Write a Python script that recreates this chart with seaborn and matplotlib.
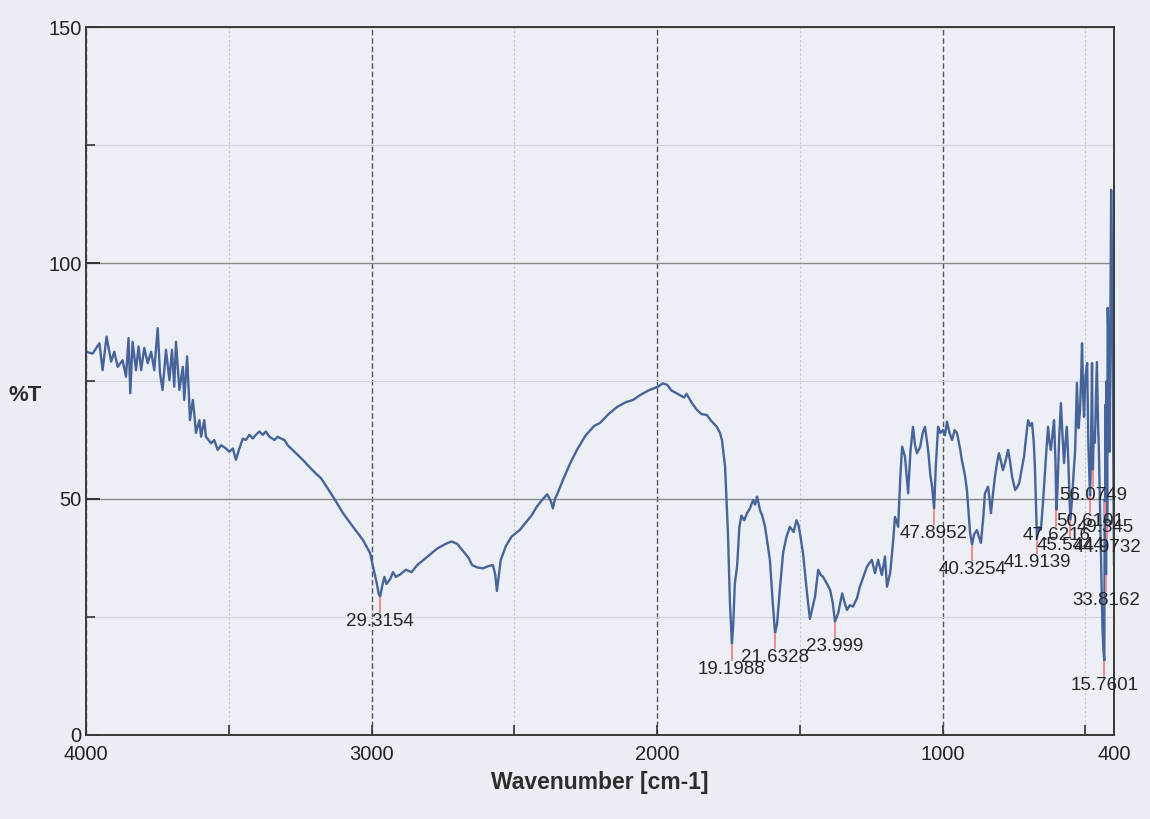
import numpy as np
import pandas as pd
import seaborn as sns
import matplotlib.pyplot as plt
from matplotlib.ticker import FixedLocator

sns.set_theme(style="ticks")
plt.rcParams['font.family'] = ['Liberation Sans', 'DejaVu Sans']

# spectrum (wavenumber cm-1, %T)
wavenumber = [
    4000, 3977, 3953, 3942, 3928, 3912, 3901, 3889, 3872, 3860, 3851, 3845, 3837, 3825, 3816,
    3807, 3796, 3784, 3772, 3761, 3749, 3741, 3732, 3720, 3708, 3699, 3691, 3685, 3673, 3661,
    3656, 3646, 3640, 3636, 3626, 3621, 3615, 3603, 3597, 3586, 3580, 3562, 3551, 3539, 3527,
    3510, 3498, 3486, 3475, 3463, 3451, 3440, 3428, 3416, 3405, 3393, 3381, 3370, 3358, 3340,
    3329, 3317, 3305, 3294, 3282, 3265, 3241, 3218, 3195, 3177, 3135, 3100, 3065, 3030, 3005,
    2995, 2982, 2975, 2970, 2963, 2955, 2948, 2935, 2925, 2915, 2900, 2880, 2860, 2840, 2820,
    2800, 2770, 2740, 2720, 2700, 2680, 2660, 2648, 2630, 2610, 2590, 2575, 2567, 2561, 2555,
    2548, 2530, 2510, 2480, 2460, 2440, 2420, 2400, 2385, 2372, 2365, 2358, 2350, 2330, 2305,
    2280, 2250, 2220, 2200, 2170, 2140, 2110, 2084, 2060, 2030, 1997, 1980, 1965, 1950, 1935,
    1920, 1905, 1897, 1880, 1861, 1845, 1826, 1810, 1791, 1780, 1773, 1762, 1752, 1745, 1738,
    1733, 1728, 1720, 1712, 1705, 1695, 1685, 1675, 1664, 1657, 1650, 1645, 1640, 1632, 1622,
    1612, 1605, 1595, 1587, 1580, 1570, 1559, 1547, 1535, 1522, 1512, 1505, 1500, 1489, 1475,
    1465, 1456, 1447, 1436, 1428, 1419, 1405, 1394, 1385, 1377, 1366, 1352, 1343, 1335, 1325,
    1314, 1300, 1290, 1278, 1265, 1248, 1237, 1226, 1213, 1202, 1195, 1184, 1175, 1167, 1160,
    1156, 1148, 1142, 1132, 1121, 1113, 1104, 1097, 1090, 1079, 1070, 1062, 1051, 1043, 1037,
    1030, 1024, 1016, 1008, 999, 992, 985, 976, 967, 958, 950, 940, 933, 922, 915,
    908, 904, 897, 890, 880, 873, 866, 858, 852, 841, 836, 831, 824, 817, 810,
    803, 796, 789, 780, 771, 764, 757, 746, 739, 732, 724, 715, 708, 701, 694,
    687, 681, 677, 673, 670, 663, 656, 649, 642, 636, 631, 626, 621, 615, 610,
    605, 602, 598, 592, 586, 580, 575, 570, 565, 560, 557, 553, 547, 542, 536,
    530, 524, 519, 515, 512, 508, 505, 500, 494, 490, 487, 484, 481, 477, 474,
    471, 467, 463, 460, 456, 453, 449, 446, 443, 440, 437, 434, 432.5, 431, 429.5,
    428, 426, 424, 422, 419, 416, 413, 410, 407, 404, 401, 400,
]
transmittance = [
    81.2, 80.8, 83.0, 77.3, 84.4, 79.1, 81.2, 78.0, 79.4, 75.9, 84.1, 72.4, 83.3, 77.3, 82.3,
    77.3, 82.0, 78.8, 81.2, 77.3, 86.2, 76.7, 73.1, 81.6, 75.2, 81.6, 73.8, 83.3, 73.1, 78.0,
    71.0, 80.2, 72.4, 66.7, 71.0, 68.2, 64.0, 66.7, 63.2, 66.7, 63.2, 61.8, 62.5, 60.4, 61.4,
    60.7, 60.0, 60.7, 58.3, 60.7, 62.8, 62.5, 63.6, 62.8, 63.6, 64.3, 63.6, 64.3, 63.2, 62.5,
    63.2, 62.8, 62.5, 61.4, 60.7, 59.7, 58.3, 56.8, 55.4, 54.4, 50.5, 47.0, 44.1, 41.3, 38.5,
    35.7, 32.2, 29.9, 29.3, 31.5, 33.5, 32.0, 33.0, 34.5, 33.5, 34.0, 35.0, 34.5, 36.0, 37.0,
    38.0, 39.5, 40.5, 41.0, 40.5, 39.0, 37.5, 36.0, 35.5, 35.3, 35.8, 36.0, 34.0, 30.5, 33.5,
    37.0, 40.0, 42.0, 43.5, 45.0, 46.5, 48.5, 50.0, 51.0, 49.5, 48.0, 50.0, 51.0, 54.0, 57.5,
    60.5, 63.5, 65.5, 66.1, 68.0, 69.5, 70.5, 71.0, 72.0, 73.0, 73.8, 74.5, 74.2, 73.0, 72.5,
    72.0, 71.5, 72.3, 70.5, 68.9, 68.0, 67.8, 66.5, 65.3, 64.0, 62.5, 56.8, 42.8, 28.0, 19.2,
    24.0, 32.0, 35.7, 44.0, 46.5, 45.5, 47.0, 48.0, 49.8, 48.8, 50.5, 49.2, 47.7, 46.5, 44.1,
    40.0, 37.0, 28.0, 21.6, 23.5, 31.0, 38.5, 42.0, 44.1, 43.0, 45.5, 44.5, 42.8, 38.5, 30.0,
    24.6, 27.0, 29.3, 35.0, 34.0, 33.5, 32.0, 30.7, 28.0, 24.0, 25.8, 30.0, 28.0, 26.5, 27.5,
    27.2, 29.0, 31.4, 33.5, 35.7, 37.1, 34.3, 37.1, 33.9, 37.8, 31.4, 34.3, 40.0, 46.2, 45.0,
    44.1, 55.0, 61.1, 59.0, 51.2, 60.0, 65.3, 61.5, 59.7, 61.0, 64.0, 65.3, 60.4, 55.0, 52.6,
    47.9, 57.0, 65.3, 64.0, 64.6, 63.5, 66.4, 64.0, 62.5, 64.6, 64.0, 61.0, 58.3, 55.0, 51.9,
    46.0, 42.8, 40.33, 42.5, 43.4, 42.0, 40.7, 46.0, 51.2, 52.6, 50.0, 47.0, 51.0, 54.7, 57.5,
    59.7, 58.0, 56.1, 58.0, 60.4, 58.0, 54.7, 51.9, 52.5, 53.4, 56.0, 59.0, 63.0, 66.7, 65.5,
    66.1, 62.0, 56.8, 48.0, 41.91, 44.0, 43.5, 49.0, 55.5, 61.0, 65.3, 62.0, 60.4, 64.0, 66.7,
    58.0, 47.62, 52.0, 63.0, 70.3, 63.0, 57.6, 62.0, 65.3, 58.0, 52.6, 45.54, 50.0, 55.0, 60.4,
    74.6, 65.0, 68.9, 76.0, 83.0, 72.0, 67.4, 76.0, 78.8, 62.0, 56.0, 50.61, 58.0, 78.8, 56.07,
    64.0, 61.9, 72.0, 79.0, 66.0, 60.4, 48.0, 39.2, 30.0, 22.0, 18.0, 15.76, 50.0, 49.35, 70.0,
    33.82, 75.0, 44.97, 90.5, 82.0, 60.0, 85.0, 115.5, 100.0, 70.0, 45.0, 36.0,
]

# picked peaks
peak_wn = [2970, 1738, 1587, 1377, 1030, 897, 670, 602, 553, 484, 474, 431, 424, 428, 434]
peak_t = [29.3154, 19.1988, 21.6328, 23.999, 47.8952, 40.3254, 41.9139, 47.6216,
          45.5444, 50.6101, 56.0749, 49.345, 44.9732, 33.8162, 15.7601]
peak_labels = ["29.3154", "19.1988", "21.6328", "23.999", "47.8952", "40.3254", "41.9139",
               "47.6216", "45.5444", "50.6101", "56.0749", "49.345", "44.9732", "33.8162",
               "15.7601"]

df = pd.DataFrame({"wn": wavenumber, "T": transmittance})

fig = plt.figure(figsize=(11.5, 8.19), dpi=100, facecolor="#eceef6")
ax = fig.add_axes([0.0748, 0.1026, 0.8939, 0.8644])
ax.set_facecolor("#edeff7")

sns.lineplot(data=df, x="wn", y="T", ax=ax, color="#46649a", lw=1.7,
             estimator=None, sort=True)

# peak marks and values
for w, t, lab in zip(peak_wn, peak_t, peak_labels):
    ax.vlines(w, t - 3.5, t, color="#f08a8c", lw=1.4, zorder=3)
    ax.text(w, t - 5.3, lab, ha="center", va="center", fontsize=13.5, color="#262626", zorder=4)

ax.set_xlim(4000, 400)
ax.set_ylim(0, 150)

ax.xaxis.set_major_locator(FixedLocator([4000, 3000, 2000, 1000, 400]))
ax.xaxis.set_minor_locator(FixedLocator([3500, 2500, 1500, 500]))
ax.yaxis.set_major_locator(FixedLocator([0, 50, 100, 150]))
ax.yaxis.set_minor_locator(FixedLocator([25, 75, 125]))

ax.grid(which="major", axis="x", color="#555555", lw=1.0, ls=(0, (4, 2)))
ax.grid(which="minor", axis="x", color="#c4c6d0", lw=0.8, ls=(0, (2, 2)))
ax.grid(which="major", axis="y", color="#8a8a8a", lw=1.0, ls="-")
ax.grid(which="minor", axis="y", color="#d2d4dc", lw=0.8, ls="-")
ax.set_axisbelow(True)

ax.tick_params(which="both", direction="in", colors="#333333", labelcolor="#222222",
               labelsize=14.5, top=False, right=False)
ax.tick_params(which="major", axis="y", length=10, width=1.4, pad=3)
ax.tick_params(which="minor", axis="y", length=6.5, width=1.2)
ax.tick_params(which="major", axis="x", length=7, width=1.2, pad=7)
ax.tick_params(which="minor", axis="x", length=7, width=1.2)

for s in ax.spines.values():
    s.set_color("#3a3a3a")
    s.set_linewidth(1.4)

ax.set_xlabel("Wavenumber [cm-1]", fontsize=16.5, fontweight="bold", color="#2d2d2d", labelpad=5)
ax.set_ylabel("%T", fontsize=16, fontweight="bold", color="#2d2d2d", rotation=0,
              ha="center", va="center")
ax.yaxis.set_label_coords(-0.059, 0.48)

fig.savefig("out.png", dpi=100, facecolor=fig.get_facecolor())
